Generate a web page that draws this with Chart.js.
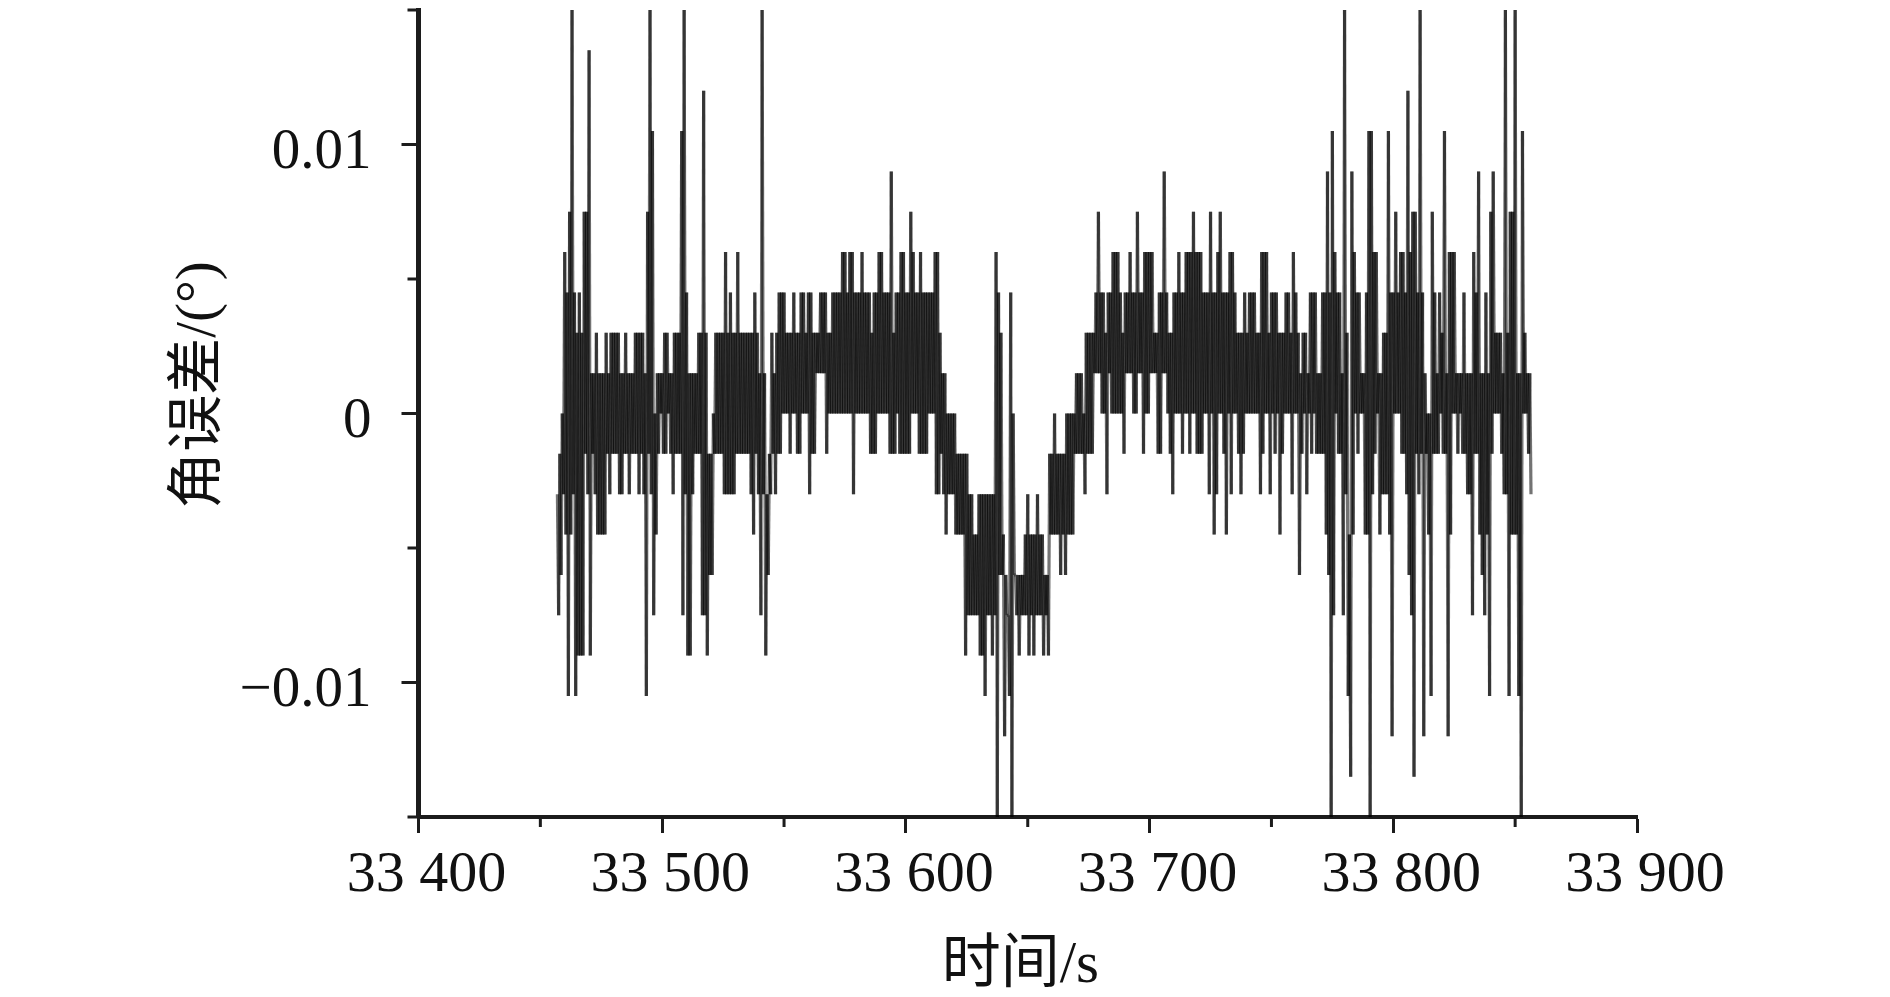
<!DOCTYPE html>
<html lang="en">
<head>
<meta charset="UTF-8">
<title>角误差</title>
<script src="https://cdn.jsdelivr.net/npm/chart.js"></script>
<style>
    body { margin: 0; background: #fff; }
    canvas { display: block; filter: blur(0.5px); }
</style>
</head>
<body>
<canvas id="chart" width="1890" height="997"></canvas>
<script>
const quantum = 0.0015;

const sampleTimes = [
    33457,33458,33459,33460,33461,33462,33463,33464,33465,33466,
    33467,33468,33469,33470,33471,33472,33473,33474,33475,33476,
    33477,33478,33479,33480,33481,33482,33483,33484,33485,33486,
    33487,33488,33489,33490,33491,33492,33493,33494,33495,33496,
    33497,33498,33499,33500,33501,33502,33503,33504,33505,33506,
    33507,33508,33509,33510,33511,33512,33513,33514,33515,33516,
    33517,33518,33519,33520,33521,33522,33523,33524,33525,33526,
    33527,33528,33529,33530,33531,33532,33533,33534,33535,33536,
    33537,33538,33539,33540,33541,33542,33543,33544,33545,33546,
    33547,33548,33549,33550,33551,33552,33553,33554,33555,33556,
    33557,33558,33559,33560,33561,33562,33563,33564,33565,33566,
    33567,33568,33569,33570,33571,33572,33573,33574,33575,33576,
    33577,33578,33579,33580,33581,33582,33583,33584,33585,33586,
    33587,33588,33589,33590,33591,33592,33593,33594,33595,33596,
    33597,33598,33599,33600,33601,33602,33603,33604,33605,33606,
    33607,33608,33609,33610,33611,33612,33613,33614,33615,33616,
    33617,33618,33619,33620,33621,33622,33623,33624,33625,33626,
    33627,33628,33629,33630,33631,33632,33633,33634,33635,33636,
    33637,33638,33639,33640,33641,33642,33643,33644,33645,33646,
    33647,33648,33649,33650,33651,33652,33653,33654,33655,33656,
    33657,33658,33659,33660,33661,33662,33663,33664,33665,33666,
    33667,33668,33669,33670,33671,33672,33673,33674,33675,33676,
    33677,33678,33679,33680,33681,33682,33683,33684,33685,33686,
    33687,33688,33689,33690,33691,33692,33693,33694,33695,33696,
    33697,33698,33699,33700,33701,33702,33703,33704,33705,33706,
    33707,33708,33709,33710,33711,33712,33713,33714,33715,33716,
    33717,33718,33719,33720,33721,33722,33723,33724,33725,33726,
    33727,33728,33729,33730,33731,33732,33733,33734,33735,33736,
    33737,33738,33739,33740,33741,33742,33743,33744,33745,33746,
    33747,33748,33749,33750,33751,33752,33753,33754,33755,33756,
    33757,33758,33759,33760,33761,33762,33763,33764,33765,33766,
    33767,33768,33769,33770,33771,33772,33773,33774,33775,33776,
    33777,33778,33779,33780,33781,33782,33783,33784,33785,33786,
    33787,33788,33789,33790,33791,33792,33793,33794,33795,33796,
    33797,33798,33799,33800,33801,33802,33803,33804,33805,33806,
    33807,33808,33809,33810,33811,33812,33813,33814,33815,33816,
    33817,33818,33819,33820,33821,33822,33823,33824,33825,33826,
    33827,33828,33829,33830,33831,33832,33833,33834,33835,33836,
    33837,33838,33839,33840,33841,33842,33843,33844,33845,33846,
    33847,33848,33849,33850,33851,33852,33853,33854,33855,33856
];

// top of the trace in each second
const highLevels = [
    -2,-1,0,4,3,5,10,3,2,3,
    2,5,5,9,1,1,2,1,1,1,
    2,1,2,2,2,2,1,1,2,1,
    1,1,2,2,2,2,1,5,10,7,
    0,1,1,1,2,2,1,1,2,2,
    2,7,10,3,1,1,1,1,2,2,
    8,2,-1,-1,0,2,2,2,2,4,
    2,3,2,2,4,2,2,2,2,2,
    2,3,2,1,10,1,-2,-1,2,1,
    2,3,3,3,2,2,2,3,2,2,
    3,3,2,3,3,2,2,2,3,3,
    3,2,2,3,3,3,3,4,4,3,
    4,4,3,3,3,4,3,3,3,2,
    3,3,4,4,3,3,3,6,2,3,
    3,4,4,3,3,5,4,3,3,4,
    3,3,3,3,3,4,4,2,1,1,
    0,0,0,0,-1,-1,-1,-1,-1,-2,
    -2,-3,-3,-2,-2,-2,-2,-2,-2,-2,
    4,3,2,-3,-4,-5,3,0,-4,-4,
    -4,-4,-3,-2,-3,-3,-3,-2,-3,-3,
    -4,-4,-1,-1,0,-1,-1,-1,-1,0,
    0,0,0,1,1,1,0,2,2,2,
    2,3,5,3,3,2,3,3,4,4,
    4,3,2,3,3,4,3,3,5,3,
    3,4,4,4,4,2,2,3,3,6,
    3,2,2,3,3,4,3,3,4,4,
    4,5,4,4,4,3,3,3,5,3,
    3,4,5,3,3,3,4,4,3,2,
    2,2,3,2,3,3,3,2,2,4,
    4,4,2,3,3,3,2,2,2,3,
    3,2,4,3,2,1,2,2,1,3,
    3,3,1,1,3,3,6,3,7,4,
    3,3,1,10,2,-3,6,4,3,3,
    1,1,3,7,7,4,4,1,1,2,
    2,7,3,3,5,3,4,4,3,8,
    4,5,5,3,10,3,1,0,0,5,
    3,1,3,2,7,1,4,4,4,1,
    1,1,3,1,1,1,4,3,6,1,
    1,3,1,5,6,2,2,2,1,10,
    2,5,5,10,1,1,7,2,1,1
];

// bottom of the trace in each second
const lowLevels = [
    -5,-4,-2,-3,-7,-3,-2,-7,-6,-6,
    -6,-1,-2,-6,-1,-2,-3,-3,-3,-3,
    -1,-2,-1,-1,-1,-2,-2,-1,-1,-2,
    -1,-1,-1,-2,-1,-2,-7,-1,-2,-5,
    -3,-1,0,-1,-1,0,-1,-2,-1,-1,
    -1,-5,-2,-6,-6,-2,-1,-1,-1,-5,
    -5,-6,-4,-4,-1,-1,-1,-1,-2,-2,
    -2,-2,-2,-1,-1,-1,-1,-1,-1,-2,
    -3,-1,-2,-5,-2,-6,-4,-2,-1,-2,
    -1,-1,0,0,0,-1,0,0,-1,-1,
    0,0,0,-2,-1,-1,1,1,1,1,
    -1,0,0,0,0,0,0,0,0,0,
    0,-2,0,0,0,0,0,0,-1,-1,
    -1,0,0,0,0,0,-1,-1,-1,0,
    -1,-1,-1,-1,-1,0,0,0,-1,-1,
    -1,-1,0,0,0,-2,-2,-1,-2,-3,
    -2,-2,-2,-3,-3,-3,-3,-6,-5,-5,
    -5,-5,-5,-6,-6,-7,-5,-5,-6,-5,
    -10,-4,-4,-8,-5,-7,-10,-4,-5,-6,
    -5,-5,-5,-6,-5,-6,-5,-5,-5,-6,
    -5,-6,-3,-3,-3,-3,-4,-3,-4,-3,
    -3,-3,-1,-1,-1,-1,-2,-1,-1,-1,
    1,1,1,0,0,-2,1,0,0,0,
    0,0,-1,1,1,1,0,0,1,1,
    -1,0,0,1,1,1,-1,-1,1,1,
    0,-1,-2,0,0,0,-1,0,0,-1,
    0,0,-1,-1,-1,0,0,-2,0,-3,
    -2,0,0,-1,-3,0,-2,0,0,-1,
    -2,-1,0,0,0,0,0,0,-2,-1,
    0,0,-2,0,-1,0,-3,-1,0,0,
    0,-2,0,0,-4,-1,0,-2,0,-1,
    0,-1,-1,-1,-1,-3,-4,-10,-5,0,
    -1,-1,-5,-2,-7,-9,-3,0,-1,0,
    0,-3,-3,-10,-2,-1,0,-3,-2,-2,
    -2,-3,-8,0,0,0,-1,-1,-2,-4,
    -5,-9,-1,-2,-1,-8,-1,-3,-7,-1,
    -1,-1,0,-1,-1,-8,-3,0,0,-1,
    0,-1,-1,-2,-2,-5,-1,-1,-3,-4,
    -5,-3,-7,-1,0,0,0,-1,-2,-2,
    -7,-3,-3,-3,-7,-10,0,0,-1,-2
];

const xTicks = { min: 33400, max: 33900, step: 50, major: 100 };
const yTicks = { min: -0.015, max: 0.015, step: 0.005 };

const xLabel = '时间/s\u00a0';
const yLabel = '\u00a0\u00a0\u00a0\u00a0角误差/(°)';

const serif = "'Liberation Serif','Noto Sans CJK SC',serif";
const ink = '#1c1c1c';

const points = [];
sampleTimes.forEach((t, i) => {
    points.push({ x: t, y: highLevels[i] * quantum });
    points.push({ x: t + 0.5, y: lowLevels[i] * quantum });
});

const isMajorX = v => Math.round(v) % xTicks.major === 0;
const isMajorY = v => Math.round(v * 1000) % 10 === 0;

// Chart.js has one tick length per axis, so the short ticks go on top here
const minorTicks = {
    id: 'minorTicks',
    afterDraw(chart) {
        const { ctx, scales: { x, y } } = chart;
        ctx.save();
        ctx.strokeStyle = ink;
        ctx.lineWidth = 3;
        ctx.beginPath();
        x.ticks.filter(t => !isMajorX(t.value)).forEach(t => {
            const px = x.getPixelForValue(t.value);
            ctx.moveTo(px, x.top);
            ctx.lineTo(px, x.top + 10);
        });
        y.ticks.filter(t => !isMajorY(t.value)).forEach(t => {
            const py = y.getPixelForValue(t.value);
            ctx.moveTo(y.right, py);
            ctx.lineTo(y.right - 11, py);
        });
        ctx.stroke();
        ctx.restore();
    }
};

new Chart(document.getElementById('chart'), {
    type: 'line',
    plugins: [minorTicks],
    data: {
        datasets: [{
            data: points,
            borderWidth: 3.2,
            pointRadius: 0,
            tension: 0,
            // two near-equal colours split the path, so overlapping strokes darken like the original
            segment: {
                borderColor: c => c.p0DataIndex % 2 ? 'rgba(0,0,0,0.54)' : 'rgba(0,0,0,0.55)'
            }
        }]
    },
    options: {
        responsive: false,
        animation: false,
        events: [],
        layout: { autoPadding: false, padding: { left: 0, right: 253, top: 10, bottom: 0 } },
        plugins: { legend: { display: false }, tooltip: { enabled: false } },
        scales: {
            x: {
                type: 'linear',
                min: xTicks.min,
                max: xTicks.max,
                afterFit: s => { s.height = 180; s.paddingLeft = 0; s.paddingRight = 0; },
                border: { color: ink, width: 4 },
                grid: {
                    drawOnChartArea: false,
                    tickLength: 16,
                    tickWidth: 3,
                    tickColor: c => isMajorX(c.tick.value) ? ink : 'transparent'
                },
                ticks: {
                    stepSize: xTicks.step,
                    autoSkip: false,
                    maxRotation: 0,
                    labelOffset: 8,
                    padding: 8,
                    color: '#111',
                    font: { family: serif, size: 58 },
                    callback: v => isMajorX(v) ? String(v).slice(0, 2) + ' ' + String(v).slice(2) : ''
                },
                title: {
                    display: true,
                    text: xLabel,
                    color: '#111',
                    font: { family: serif, size: 59 },
                    padding: { top: 0, bottom: -5 }
                }
            },
            y: {
                min: yTicks.min,
                max: yTicks.max,
                afterFit: s => { s.width = 418.5; s.paddingTop = 0; s.paddingBottom = 0; },
                border: { color: ink, width: 5 },
                grid: {
                    drawOnChartArea: false,
                    tickLength: 17,
                    tickWidth: 3,
                    tickColor: c => isMajorY(c.tick.value) ? ink : 'transparent'
                },
                ticks: {
                    stepSize: yTicks.step,
                    autoSkip: false,
                    padding: 30,
                    labelOffset: 9,
                    color: '#111',
                    font: { family: serif, size: 57 },
                    callback: v => {
                        if (!isMajorY(v) || Math.abs(v) > 0.011) return '';
                        const n = Math.round(v * 100);
                        return n === 0 ? '0' : n > 0 ? '0.01' : '\u22120.01';
                    }
                },
                title: {
                    display: true,
                    text: yLabel,
                    color: '#111',
                    font: { family: serif, size: 57 },
                    padding: { top: 166, bottom: 0 }
                }
            }
        }
    }
});
</script>
</body>
</html>
